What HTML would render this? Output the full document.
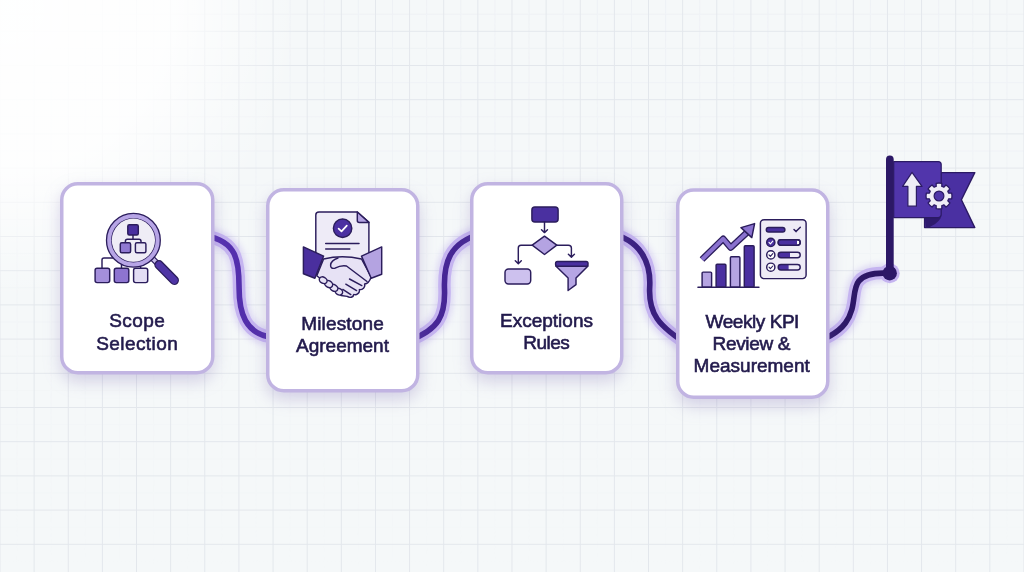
<!DOCTYPE html>
<html><head><meta charset="utf-8">
<style>
html,body{margin:0;padding:0;width:1024px;height:572px;overflow:hidden;background:#f5f8f9;}
svg{display:block;position:absolute;left:0;top:0;will-change:transform;}
.t{font-family:"Liberation Sans",sans-serif;font-size:19px;fill:#221a4c;text-anchor:middle;stroke:#221a4c;stroke-width:0.6px;}
</style></head><body>
<svg width="1024" height="572" viewBox="0 0 1024 572">
<defs>
  <pattern id="grid" x="-0.5" y="30.8" width="34.133" height="34.2" patternUnits="userSpaceOnUse">
    <path d="M0 0.5H34.133M0.5 0V34.2" stroke="#e3e7ec" stroke-width="1" fill="none"/>
  </pattern>
  <pattern id="grid2" x="16.57" y="47.9" width="34.133" height="34.2" patternUnits="userSpaceOnUse">
    <path d="M0 0.5H34.133M0.5 0V34.2" stroke="#eef1f5" stroke-width="1" fill="none"/>
  </pattern>
  <linearGradient id="fadeg" x1="0" y1="0" x2="0" y2="572" gradientUnits="userSpaceOnUse">
    <stop offset="0" stop-color="#fff" stop-opacity="1"/>
    <stop offset="0.6" stop-color="#fff" stop-opacity="0.4"/>
    <stop offset="1" stop-color="#fff" stop-opacity="0"/>
  </linearGradient>
  <mask id="fade"><rect width="1024" height="572" fill="url(#fadeg)"/></mask>
  <radialGradient id="glow" cx="10" cy="10" r="290" gradientUnits="userSpaceOnUse">
    <stop offset="0" stop-color="#ffffff" stop-opacity="0.95"/>
    <stop offset="0.55" stop-color="#ffffff" stop-opacity="0.85"/>
    <stop offset="0.85" stop-color="#ffffff" stop-opacity="0.25"/>
    <stop offset="1" stop-color="#ffffff" stop-opacity="0"/>
  </radialGradient>
  <linearGradient id="pathg" x1="210" y1="0" x2="900" y2="0" gradientUnits="userSpaceOnUse">
    <stop offset="0" stop-color="#5530b0"/>
    <stop offset="1" stop-color="#2a1662"/>
  </linearGradient>
  <filter id="shadow" x="-30%" y="-30%" width="160%" height="170%">
    <feGaussianBlur in="SourceAlpha" stdDeviation="7"/>
    <feOffset dy="7"/>
    <feComponentTransfer><feFuncA type="linear" slope="0.22"/></feComponentTransfer>
    <feFlood flood-color="#7a5cd0"/>
    <feComposite operator="in" in2="SourceGraphic"/>
  </filter>
  <filter id="pglow" x="-50%" y="-50%" width="200%" height="200%">
    <feGaussianBlur stdDeviation="3"/>
  </filter>
</defs>
<rect width="1024" height="572" fill="#f5f8f9"/>
<rect width="1024" height="572" fill="url(#grid2)" mask="url(#fade)"/>
<rect width="1024" height="572" fill="url(#grid)"/>
<rect width="1024" height="572" fill="url(#glow)"/>

<!-- connecting path -->
<g fill="none" stroke-linecap="butt">
  <g stroke="#a58ee6" stroke-width="18" opacity="0.3" filter="url(#pglow)">
    <path d="M205.9 236.0 C236.9 241.1, 239.1 261.5, 239.05 287.0 C239.0 312.2, 244.8 334.8, 273.6 337.4"/><path d="M409.1 340.6 C439.2 329.3, 445.4 315.3, 444.5 289.3 C443.6 264.7, 447.9 242.0, 482.9 233.4"/><path d="M608.1 233.0 C641.2 239.1, 651.0 263.2, 649.7 286.8 C648.3 313.0, 656.9 325.7, 691.9 347.2"/><path d="M804.9 345.6 C867.4 329.1, 847.3 295.1, 858.8 281.1 C867.2 270.9, 884.8 273.3, 889.6 273.3"/>
  </g>
  <circle cx="889.7" cy="273.2" r="10" fill="#c5b4f0"/>
  <g stroke="#c5b4f0" stroke-width="12.5">
    <path d="M205.9 236.0 C236.9 241.1, 239.1 261.5, 239.05 287.0 C239.0 312.2, 244.8 334.8, 273.6 337.4"/><path d="M409.1 340.6 C439.2 329.3, 445.4 315.3, 444.5 289.3 C443.6 264.7, 447.9 242.0, 482.9 233.4"/><path d="M608.1 233.0 C641.2 239.1, 651.0 263.2, 649.7 286.8 C648.3 313.0, 656.9 325.7, 691.9 347.2"/><path d="M804.9 345.6 C867.4 329.1, 847.3 295.1, 858.8 281.1 C867.2 270.9, 884.8 273.3, 889.6 273.3"/>
  </g>
  <g stroke="url(#pathg)" stroke-width="5.6">
    <path d="M205.9 236.0 C236.9 241.1, 239.1 261.5, 239.05 287.0 C239.0 312.2, 244.8 334.8, 273.6 337.4"/><path d="M409.1 340.6 C439.2 329.3, 445.4 315.3, 444.5 289.3 C443.6 264.7, 447.9 242.0, 482.9 233.4"/><path d="M608.1 233.0 C641.2 239.1, 651.0 263.2, 649.7 286.8 C648.3 313.0, 656.9 325.7, 691.9 347.2"/><path d="M804.9 345.6 C867.4 329.1, 847.3 295.1, 858.8 281.1 C867.2 270.9, 884.8 273.3, 889.6 273.3"/>
  </g>
</g>

<!-- cards -->
<g style="filter:drop-shadow(0 7px 8px rgba(115,95,175,0.26))">
  <rect x="61.75" y="183.75" width="151" height="189" rx="16" fill="#fff" stroke="#c1b4e2" stroke-width="3.5"/>
  <rect x="267.75" y="189.75" width="150" height="201" rx="16" fill="#fff" stroke="#c1b4e2" stroke-width="3.5"/>
  <rect x="471.75" y="183.75" width="150" height="189" rx="16" fill="#fff" stroke="#c1b4e2" stroke-width="3.5"/>
  <rect x="677.75" y="190" width="150" height="207.2" rx="16" fill="#fff" stroke="#c1b4e2" stroke-width="3.5"/>
</g>

<!-- text -->
<text class="t" textLength="55.5" lengthAdjust="spacing" x="137" y="327">Scope</text>
<text class="t" textLength="81.5" lengthAdjust="spacing" x="137" y="349.7">Selection</text>
<text class="t" textLength="82.7" lengthAdjust="spacing" x="342.5" y="329.5">Milestone</text>
<text class="t" x="342.5" y="352">Agreement</text>
<text class="t" x="546.5" y="327.2">Exceptions</text>
<text class="t" textLength="46.5" lengthAdjust="spacing" x="546.5" y="349.4">Rules</text>
<text class="t" textLength="93.8" lengthAdjust="spacing" x="752.5" y="327.6">Weekly KPI</text>
<text class="t" textLength="77.8" lengthAdjust="spacing" x="751.5" y="349.9">Review &amp;</text>
<text class="t" x="751.7" y="372.3">Measurement</text>

<!-- ICON 1 -->
<g stroke="#2b1d5c" stroke-width="1.45" stroke-linejoin="round" stroke-linecap="round">
  <path d="M102 268.2 V260 Q102 258 104 258 H113" fill="none"/>
  <path d="M121.5 268 V263" fill="none"/>
  <path d="M140.6 268 V265" fill="none"/>
  <rect x="95.1" y="268.2" width="14.6" height="14.4" rx="2" fill="#a48fdb"/>
  <rect x="114.3" y="268.2" width="14.5" height="14.4" rx="2" fill="#8d74d0"/>
  <rect x="133.6" y="268.2" width="14.1" height="14.4" rx="2" fill="#e3ddf4"/>
  <path d="M150.5 256.5 L157.5 263.5" stroke-width="6" stroke="#2b1d5c"/>
  <path d="M150.5 256.5 L157.5 263.5" stroke-width="3.6" stroke="#c9bcec"/>
  <path d="M159 264.8 L174.3 280.3" stroke-width="9.4" stroke="#2b1d5c"/>
  <path d="M159 264.8 L174.3 280.3" stroke-width="6.8" stroke="#4f35a5"/>
  <circle cx="133.4" cy="240.2" r="24.25" fill="none" stroke="#2b1d5c" stroke-width="6.6"/>
  <circle cx="133.4" cy="240.2" r="24.25" fill="none" stroke="#b7a5e6" stroke-width="4"/>
  <circle cx="133.4" cy="240.2" r="21.6" fill="#efedf6" stroke="none"/>
  <path d="M133 234.9 V239.3 M125.4 242.75 V241.3 Q125.4 239.3 127.4 239.3 H139 Q141 239.3 141 241.3 V242.75" fill="none"/>
  <rect x="127.8" y="224.7" width="10.5" height="10.2" rx="1.5" fill="#4a30a0"/>
  <rect x="120.3" y="242.75" width="10.3" height="10" rx="1.5" fill="#9079d2"/>
  <rect x="135.4" y="242.75" width="10.5" height="10" rx="1.5" fill="#e8e4f4"/>
</g>

<!-- ICON 2 -->
<g stroke="#2b1d5c" stroke-width="1.45" stroke-linejoin="round" stroke-linecap="round">
  <path d="M319 212 H357.3 L368.9 222.4 V262 H315.8 V215 Q315.8 212 319 212 Z" fill="#eeebf7"/>
  <path d="M357.3 212 V220.4 Q357.3 222.4 359.3 222.4 H368.9 Z" fill="#b4a3e2"/>
  <circle cx="342.6" cy="228.2" r="9.2" fill="#4b30a2"/>
  <path d="M338.6 228.6 L341.5 231.4 L346.8 225.6" stroke="#fff" stroke-width="1.7" fill="none"/>
  <path d="M325.7 243.5 H359 M325.7 249 H349.8" stroke-width="1.5" fill="none"/>
  <!-- hands -->
  <path d="M323.6 259 Q342 254.6 361.5 259 L371.2 277 C370 280.5 367.5 283.8 364.6 284 C365.6 287.2 362.5 290 359.4 289.6 C360 293 356.6 295.4 353.8 294.4 C353.6 297.4 349.6 298.2 347.2 296.4 L341 295.5 L316.8 275.8 Z" fill="#e7e2f5"/>
  <path d="M349.5 279 L361.8 285.6 M345.8 284.2 L356.6 290.6 M342.8 289.4 L350.8 294.6" fill="none"/>
  <path d="M338 258 Q331 260.5 330.6 265 Q330.4 269.2 335 268.2 Q341 265 346.5 266 L367 281.5" fill="#e7e2f5"/>
  <ellipse cx="338.8" cy="291.6" rx="4" ry="3.1" transform="rotate(30 338.8 291.6)" fill="#e7e2f5"/>
  <ellipse cx="333.8" cy="287.8" rx="4.3" ry="3.2" transform="rotate(30 333.8 287.8)" fill="#e7e2f5"/>
  <ellipse cx="328.6" cy="284" rx="4.3" ry="3.2" transform="rotate(30 328.6 284)" fill="#e7e2f5"/>
  <ellipse cx="323.2" cy="280.2" rx="4.1" ry="3.1" transform="rotate(30 323.2 280.2)" fill="#e7e2f5"/>
  <path d="M303.4 246.9 L323.6 256.1 L314.9 278.2 L303.4 273.8 Z" fill="#4a2f9e"/>
  <path d="M361.5 256.1 L381.7 246.9 L381.7 274.3 L371.2 278.2 Z" fill="#b4a3e1"/>
</g>

<!-- ICON 3 -->
<g stroke="#2b1d5c" stroke-width="1.45" stroke-linejoin="round" stroke-linecap="round">
  <rect x="531.9" y="207" width="26.2" height="14.9" rx="3" fill="#4a30a0"/>
  <path d="M544.5 222 V232.4 M541.5 229.8 L544.5 232.6 L547.5 229.8" fill="none"/>
  <path d="M544.5 236.2 L556.8 245.2 L544.5 254.5 L532.2 245.2 Z" fill="#b4a3e2"/>
  <path d="M532.2 245.2 H521 Q518.3 245.2 518.3 248 V263.5 M515.3 260.8 L518.3 263.7 L521.3 260.8" fill="none"/>
  <path d="M556.8 245.2 H568.4 Q571.4 245.2 571.4 248 V257 M568.4 254.3 L571.4 257.2 L574.4 254.3" fill="none"/>
  <rect x="505" y="269" width="25.7" height="14.9" rx="3.5" fill="#cdc1ee"/>
  <path d="M555.8 266 H588 L576 278 V284.7 L568.1 290.5 V278 Z" fill="#b6a6e4"/>
  <rect x="555.6" y="261.5" width="32.4" height="4.8" rx="1.8" fill="#4a30a0"/>
</g>

<!-- ICON 4 -->
<g stroke="#2b1d5c" stroke-width="1.45" stroke-linejoin="round" stroke-linecap="round">
  <rect x="702.1" y="272.1" width="9.5" height="15.2" rx="1" fill="#b5a4e2"/>
  <rect x="716.1" y="264.2" width="9.8" height="23.1" rx="1" fill="#4a30a0"/>
  <rect x="730.4" y="256.8" width="9.5" height="30.5" rx="1" fill="#b5a4e2"/>
  <rect x="744.3" y="245.7" width="9.8" height="41.6" rx="1" fill="#4a30a0"/>
  <path d="M698 287.3 H758.9" stroke-width="1.6" fill="none"/>
  <path d="M702 259.5 L723.2 238.8 L730.7 247.6 L747 232.5" stroke="#2b1d5c" stroke-width="6.6" fill="none" stroke-linecap="butt" stroke-linejoin="round"/>
  <path d="M702 259.5 L723.2 238.8 L730.7 247.6 L747 232.5" stroke="#8a72cf" stroke-width="4" fill="none" stroke-linecap="butt" stroke-linejoin="round"/>
  <path d="M741 227.6 L754.6 223.6 L751.8 237.6 Z" fill="#8a72cf"/>
  <rect x="760.4" y="219.7" width="45.7" height="58.9" rx="3.5" fill="#eeebf6"/>
  <rect x="766.3" y="227.5" width="18.6" height="4.5" rx="2.25" fill="#4a30a0"/>
  <path d="M794 229.5 L796 231.6 L800.3 227.2" fill="none" stroke-width="1.5"/>
  <circle cx="770.8" cy="242.4" r="4.1" fill="#4a30a0"/>
  <path d="M769 242.4 L770.4 243.9 L772.8 241.2" stroke="#fff" stroke-width="1.1" fill="none"/>
  <rect x="778.2" y="239.7" width="22" height="5.5" rx="2.75" fill="#fff"/>
  <path d="M780.95 239.7 H797 V245.2 H780.95 A2.75 2.75 0 0 1 780.95 239.7 Z" fill="#4a30a0" stroke="none"/>
  <rect x="778.2" y="239.7" width="22" height="5.5" rx="2.75" fill="none"/>
  <circle cx="770.8" cy="254.9" r="4.1" fill="#fff"/>
  <path d="M769 254.9 L770.4 256.4 L772.8 253.7" fill="none" stroke-width="1.1"/>
  <path d="M780.95 252.2 H790 V257.7 H780.95 A2.75 2.75 0 0 1 780.95 252.2 Z" fill="#4a30a0" stroke="none"/>
  <rect x="778.2" y="252.2" width="22" height="5.5" rx="2.75" fill="none"/>
  <circle cx="770.8" cy="267.2" r="4.1" fill="#fff"/>
  <path d="M769 267.2 L770.4 268.7 L772.8 266" fill="none" stroke-width="1.1"/>
  <path d="M780.95 264.5 H788.6 V270 H780.95 A2.75 2.75 0 0 1 780.95 264.5 Z" fill="#4a30a0" stroke="none"/>
  <rect x="778.2" y="264.5" width="22" height="5.5" rx="2.75" fill="none"/>
</g>

<!-- FLAG -->
<g stroke-linejoin="round">
  <path d="M924.6 217.6 V227.6 H974.8 L961.4 199.8 L974.8 172.6 H941.2" fill="#4a30a2" stroke="#2b1a64" stroke-width="1.4" stroke-linejoin="round"/>
  <path d="M924.6 217.6 H941.2 Q936 226 926 228 Z" fill="#2e1a6e"/>
  <path d="M893.7 161.6 H938.2 Q941.2 161.6 941.2 164.6 V214.6 Q941.2 217.6 938.2 217.6 H893.7 Z" fill="#5135ab" stroke="#2b1a64" stroke-width="1.2"/>
  <path d="M912 172.3 L922 186.4 H916.4 V206.2 H907.9 V186.4 H902.6 Z" fill="#eeecf6" stroke="#2b1a64" stroke-width="1.2"/>
  <g transform="translate(939 196)">
    <path fill="#eeecf6" stroke="#2b1a64" stroke-width="1.3" stroke-linejoin="round" d="M-2.84 -9.59 L-2.81 -12.69 A13.00 13.00 0 0 1 2.81 -12.69 L2.84 -9.59 A10.00 10.00 0 0 1 4.77 -8.79 L6.98 -10.96 A13.00 13.00 0 0 1 10.96 -6.98 L8.79 -4.77 A10.00 10.00 0 0 1 9.59 -2.84 L12.69 -2.81 A13.00 13.00 0 0 1 12.69 2.81 L9.59 2.84 A10.00 10.00 0 0 1 8.79 4.77 L10.96 6.98 A13.00 13.00 0 0 1 6.98 10.96 L4.77 8.79 A10.00 10.00 0 0 1 2.84 9.59 L2.81 12.69 A13.00 13.00 0 0 1 -2.81 12.69 L-2.84 9.59 A10.00 10.00 0 0 1 -4.77 8.79 L-6.98 10.96 A13.00 13.00 0 0 1 -10.96 6.98 L-8.79 4.77 A10.00 10.00 0 0 1 -9.59 2.84 L-12.69 2.81 A13.00 13.00 0 0 1 -12.69 -2.81 L-9.59 -2.84 A10.00 10.00 0 0 1 -8.79 -4.77 L-10.96 -6.98 A13.00 13.00 0 0 1 -6.98 -10.96 L-4.77 -8.79 A10.00 10.00 0 0 1 -2.84 -9.59Z"/>
    <circle r="4.9" fill="#4f35a8" stroke="#2b1a64" stroke-width="1.2"/>
  </g>
  <rect x="886" y="155.6" width="7.7" height="118" rx="3.85" fill="#2c1866"/>
  <circle cx="889.7" cy="273.2" r="7.2" fill="#2c1866"/>
</g>
</svg>
</body></html>
